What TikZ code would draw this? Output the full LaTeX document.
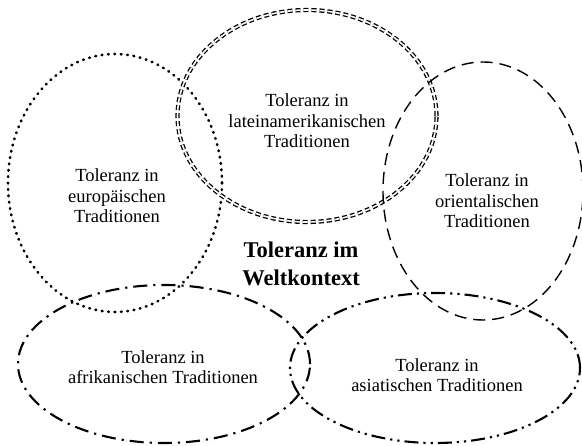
\documentclass[tikz,border=0pt]{standalone}
\usepackage{fontspec}
\setmainfont{Liberation Serif}
\usetikzlibrary{shapes.geometric}
\tikzset{
  ring/.style={draw=black, ellipse, inner sep=0pt, outer sep=0pt},
  dotring/.style={ring, line width=2.6pt, line cap=round, dash pattern=on 0.8pt off 5.6pt},
  dblring/.style={ring, line width=1.3pt, double=white, double distance=1.6pt, dash pattern=on 5pt off 3pt},
  dashring/.style={ring, line width=1.4pt, dash pattern=on 12pt off 7pt},
  dotdashring/.style={ring, line width=2.1pt, dash pattern=on 14pt off 6pt on 2.2pt off 6pt},
  dotdotdashring/.style={ring, line width=2.1pt, dash pattern=on 14pt off 5pt on 2.2pt off 5pt on 2.2pt off 5pt},
  lbl/.style={align=center, font=\fontsize{18.5}{20.5}\selectfont, inner sep=0pt},
  mainlbl/.style={align=center, font=\fontsize{22.5}{27.5}\selectfont\bfseries, inner sep=0pt}
}
\begin{document}
\begin{tikzpicture}[x=1pt, y=-1pt]
\useasboundingbox (0,0) rectangle (582,446);
\node[dotring, minimum width=214pt, minimum height=258pt] (eu) at (115,183) {};
\node[dblring, minimum width=259pt, minimum height=212pt] (la) at (307,116) {};
\node[dashring, minimum width=200pt, minimum height=258pt] (or) at (483,191) {};
\node[dotdashring, minimum width=292pt, minimum height=158pt] (af) at (164,364) {};
\node[dotdotdashring, minimum width=290pt, minimum height=150pt] (as) at (435,368) {};
\node[lbl] (teu) at (117,196) {Toleranz in\\europäischen\\Traditionen};
\node[lbl] (tla) at (307,121) {Toleranz in\\lateinamerikanischen\\Traditionen};
\node[lbl] (tor) at (487,201) {Toleranz in\\orientalischen\\Traditionen};
\node[lbl] (taf) at (163,367) {Toleranz in\\afrikanischen Traditionen};
\node[lbl] (tas) at (437,375) {Toleranz in\\asiatischen Traditionen};
\node[mainlbl] (tmain) at (301,264) {Toleranz im\\Weltkontext};
\end{tikzpicture}
\end{document}
